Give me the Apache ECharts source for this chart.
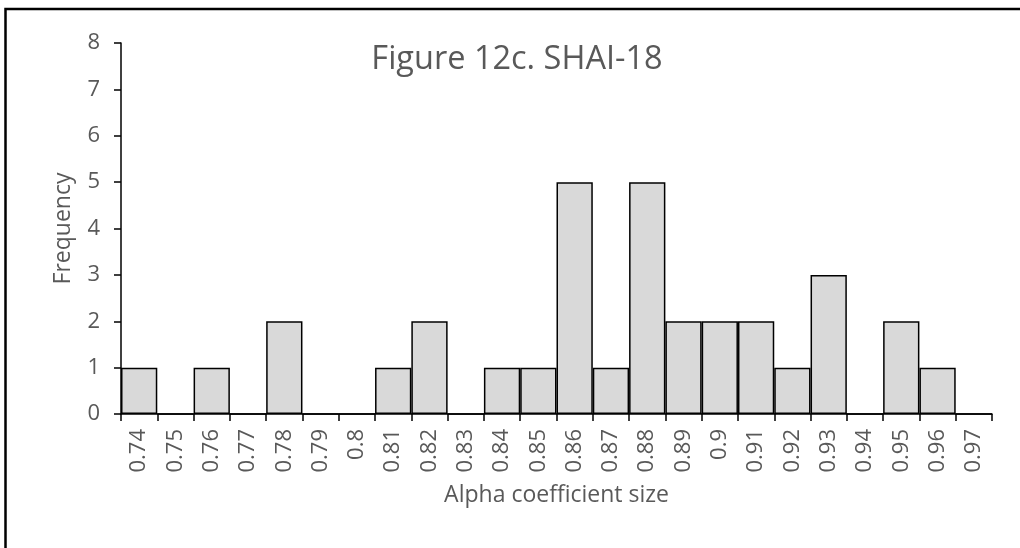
<!DOCTYPE html>
<html>
<head>
<meta charset="utf-8">
<style>html,body{margin:0;padding:0;background:#fff;}#c{width:1020px;height:548px;}</style>
<script src="https://cdn.jsdelivr.net/npm/echarts@6/dist/echarts.min.js"></script>
</head>
<body>
<div id="c"></div>
<script>
const categories = ['0.74','0.75','0.76','0.77','0.78','0.79','0.8','0.81','0.82','0.83','0.84','0.85','0.86','0.87','0.88','0.89','0.9','0.91','0.92','0.93','0.94','0.95','0.96','0.97'];
const frequency = [1,0,1,0,2,0,0,1,2,0,1,1,5,1,5,2,2,2,1,3,0,2,1,0];
const yTicks = {min: 0, max: 8, interval: 1};
const titleText = 'Figure 12c. SHAI-18';
const xName = 'Alpha coefficient size';
const yName = 'Frequency';

const font = '"Open Sans", sans-serif';
const chart = echarts.init(document.getElementById('c'), null, {renderer: 'canvas'});
chart.setOption({
  animation: false,
  backgroundColor: '#fff',
  grid: {left: 121, right: 28, top: 43, bottom: 134, containLabel: false},
  graphic: [
    {type: 'rect', shape: {x: 5.5, y: 9, width: 1200, height: 1200}, style: {fill: 'none', stroke: '#000', lineWidth: 2.5}, silent: true},
    {type: 'text', x: 517, y: 60, style: {text: titleText, fontFamily: font, fontSize: 32.5, fill: '#595959', textAlign: 'center', textVerticalAlign: 'middle'}}
  ],
  xAxis: {
    type: 'category',
    data: categories,
    boundaryGap: true,
    name: xName,
    nameLocation: 'middle',
    nameGap: 70,
    nameTextStyle: {fontFamily: font, fontSize: 23, color: '#595959'},
    axisLine: {show: true, lineStyle: {color: '#000', width: 1.5}},
    axisTick: {show: true, length: 7, inside: false, lineStyle: {color: '#000', width: 1.5}},
    axisLabel: {rotate: 90, margin: 15, fontFamily: font, fontSize: 22, color: '#595959', interval: 0},
    splitLine: {show: false}
  },
  yAxis: {
    type: 'value',
    min: yTicks.min, max: yTicks.max, interval: yTicks.interval,
    name: yName,
    nameLocation: 'middle',
    nameGap: 46,
    nameTextStyle: {fontFamily: font, fontSize: 23, color: '#595959'},
    axisLine: {show: true, lineStyle: {color: '#000', width: 1.5}},
    axisTick: {show: true, length: 7, inside: false, lineStyle: {color: '#000', width: 1.5}},
    axisLabel: {margin: 21, fontFamily: font, fontSize: 22, color: '#595959'},
    splitLine: {show: false}
  },
  series: [{
    type: 'bar',
    data: frequency,
    barCategoryGap: '0%',
    itemStyle: {color: '#d9d9d9', borderColor: '#000', borderWidth: 1.5},
    emphasis: {disabled: true}
  }]
});
</script>
</body>
</html>
